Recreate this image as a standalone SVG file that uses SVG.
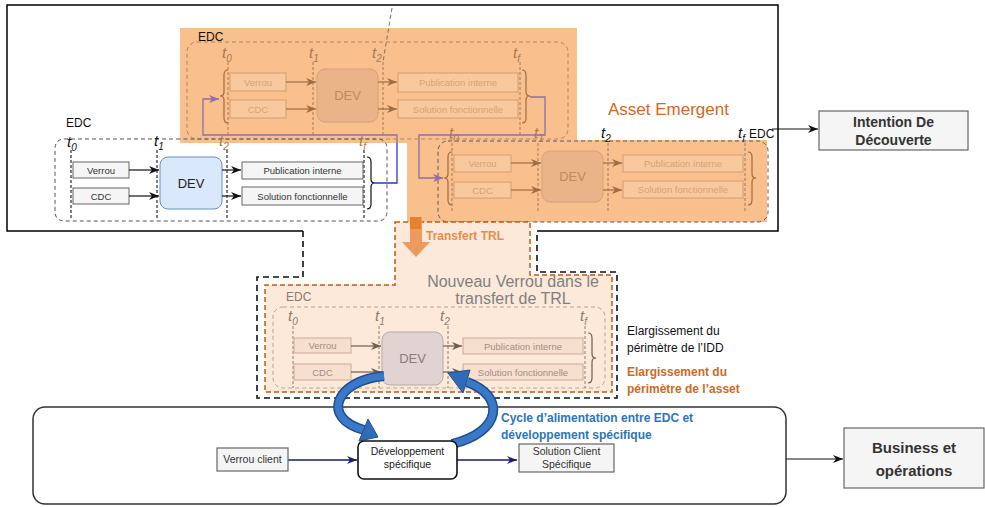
<svg xmlns="http://www.w3.org/2000/svg" width="985" height="507" viewBox="0 0 985 507">
<style>
text{font-family:'Liberation Sans',Arial,sans-serif}
.frame{fill:none;stroke:#000;stroke-width:1.5}
.dblk{fill:none;stroke:#111;stroke-width:1.6;stroke-dasharray:6 4}
.edc{fill:none;stroke:#555;stroke-width:1;stroke-dasharray:4 3}
.vl{stroke:#000;stroke-width:1;stroke-dasharray:3 2}
.box{fill:#f5f5f5;stroke:#666;stroke-width:1}
.bt{font-size:9.5px;fill:#333;text-anchor:middle}
.dev{fill:#dae8fc;stroke:#6c8ebf;stroke-width:1}
.devt{font-size:13px;fill:#222;text-anchor:middle}
.ln{fill:none;stroke:#111;stroke-width:1.2}
.tl{font-style:italic;font-size:15px}
.sub{font-size:10px}
.lbl{font-size:12px;fill:#111}
.o-edc{fill:none;stroke:#b08560;stroke-width:1;stroke-dasharray:4 3}
.o-edc2{fill:none;stroke:#5a5a5a;stroke-width:1;stroke-dasharray:4 3}
.o-vl{stroke:#a57a55;stroke-width:1;stroke-dasharray:3 2}
.o-box{fill:#f9c89d;stroke:#d29d70;stroke-width:1}
.o-bt{font-size:9.5px;fill:#d7a274;text-anchor:middle}
.o-dev{fill:#ebb388;stroke:#d8a178;stroke-width:1}
.o-devt{font-size:13px;fill:#c08a5e;text-anchor:middle}
.o-ln{fill:none;stroke:#9e6d42;stroke-width:1.2}
.o-t{fill:#a57a55}
.m-edc{fill:none;stroke:#b9a293;stroke-width:1;stroke-dasharray:4 3}
.m-vl{stroke:#8f7c6f;stroke-width:1;stroke-dasharray:3 2}
.m-box{fill:#f6dfcf;stroke:#c7aa98;stroke-width:1}
.m-bt{font-size:9.5px;fill:#a38d80;text-anchor:middle}
.m-dev{fill:#e0d3d1;stroke:#b9a9a6;stroke-width:1}
.m-devt{font-size:13px;fill:#8c7c7a;text-anchor:middle}
.m-ln{fill:none;stroke:#6e5d50;stroke-width:1.2}
.m-t{fill:#8f7c6f}
.pur{fill:none;stroke:#8f6fa6;stroke-width:1.3}
.blu{fill:none;stroke:#2936d0;stroke-width:1.3}
.nav{fill:none;stroke:#1a1a6e;stroke-width:1.3}
.gbox{fill:#f5f5f5;stroke:#666;stroke-width:1.2}
</style>
<defs>
<marker id="ab" markerUnits="userSpaceOnUse" markerWidth="10" markerHeight="8" refX="10" refY="4" orient="auto"><path d="M0,0 L10,4 L0,8 L3,4 z" fill="#111"/></marker>
<marker id="ao" markerUnits="userSpaceOnUse" markerWidth="10" markerHeight="8" refX="10" refY="4" orient="auto"><path d="M0,0 L10,4 L0,8 L3,4 z" fill="#9e6d42"/></marker>
<marker id="am" markerUnits="userSpaceOnUse" markerWidth="10" markerHeight="8" refX="10" refY="4" orient="auto"><path d="M0,0 L10,4 L0,8 L3,4 z" fill="#6e5d50"/></marker>
<marker id="ap" markerUnits="userSpaceOnUse" markerWidth="10" markerHeight="8" refX="10" refY="4" orient="auto"><path d="M0,0 L10,4 L0,8 L3,4 z" fill="#8f6fa6"/></marker>
<marker id="an" markerUnits="userSpaceOnUse" markerWidth="10" markerHeight="8" refX="10" refY="4" orient="auto"><path d="M0,0 L10,4 L0,8 L3,4 z" fill="#1a1a6e"/></marker>
</defs>
<rect width="985" height="507" fill="#fff"/>

<!-- IDD frame -->
<g id="frame-idd">
<path class="frame" d="M303,231 H7 V5 H778 V231 H537"/>
</g>

<!-- Asset emergent orange zone -->
<g id="asset-emergent">
<path d="M180,28 H577 V140 H767 V222 H407 V143 H180 Z" fill="#f9bf8c"/>
<text x="608" y="115" font-size="17" fill="#d0691f">Asset Emergent</text>
</g>

<!-- top EDC (in orange) -->
<g id="edc-top">
<rect class="o-edc" x="187" y="42" width="381" height="97" rx="10"/>
<text class="lbl" x="198" y="41">EDC</text>
<line x1="392" y1="8" x2="383" y2="62" stroke="#8a6a50" stroke-width="1" stroke-dasharray="4 3"/>
<text class="tl o-t" x="222" y="58">t<tspan class="sub" dy="4">0</tspan></text>
<text class="tl o-t" x="309" y="58">t<tspan class="sub" dy="4">1</tspan></text>
<text class="tl o-t" x="372" y="58">t<tspan class="sub" dy="4">2</tspan></text>
<text class="tl o-t" x="513" y="58">t<tspan class="sub" dy="4">f</tspan></text>
<line class="o-vl" x1="228" y1="62" x2="228" y2="136"/>
<line class="o-vl" x1="313" y1="62" x2="313" y2="136"/>
<line class="o-vl" x1="383" y1="62" x2="383" y2="136"/>
<line class="o-vl" x1="520" y1="62" x2="520" y2="136"/>
<path class="o-ln" d="M228,70 Q224,70 224,75 V92 Q224,96 220,96 Q224,96 224,100 V118 Q224,123 228,123"/>
<path class="o-ln" d="M522,70 Q526,70 526,75 V92 Q526,96 530,96 Q526,96 526,100 V118 Q526,123 522,123"/>
<rect class="o-box" x="230" y="73" width="56" height="18"/><text class="o-bt" x="258" y="86">Verrou</text>
<rect class="o-box" x="230" y="100" width="56" height="18"/><text class="o-bt" x="258" y="113">CDC</text>
<rect class="o-dev" x="317" y="69" width="61" height="53" rx="8"/><text class="o-devt" x="347.5" y="100">DEV</text>
<rect class="o-box" x="398" y="73" width="120" height="19"/><text class="o-bt" x="458" y="86">Publication interne</text>
<rect class="o-box" x="398" y="100" width="120" height="18"/><text class="o-bt" x="458" y="113">Solution fonctionnelle</text>
<path class="o-ln" d="M286,82 H316" marker-end="url(#ao)"/>
<path class="o-ln" d="M286,109 H316" marker-end="url(#ao)"/>
<path class="o-ln" d="M378,82 H397" marker-end="url(#ao)"/>
<path class="o-ln" d="M378,109 H397" marker-end="url(#ao)"/>
</g>

<!-- right EDC (in orange) -->
<g id="edc-right">
<rect class="o-edc2" x="438" y="141" width="330" height="81" rx="10"/>
<text class="tl o-t" x="449" y="138">t<tspan class="sub" dy="4">0</tspan></text>
<text class="tl o-t" x="534" y="138">t<tspan class="sub" dy="4">1</tspan></text>
<text class="tl" x="601" y="138" fill="#111">t<tspan class="sub" dy="4">2</tspan></text>
<text class="tl" x="738" y="138" fill="#111">t<tspan class="sub" dy="4">f</tspan></text>
<text class="lbl" x="749" y="138">EDC</text>
<line class="o-vl" x1="452" y1="143" x2="452" y2="212"/>
<line class="o-vl" x1="538" y1="143" x2="538" y2="212"/>
<line class="m-vl" x1="608" y1="143" x2="608" y2="212"/>
<line class="m-vl" x1="745" y1="143" x2="745" y2="212"/>
<path class="o-ln" d="M452,152 Q448,152 448,157 V174 Q448,178 444,178 Q448,178 448,182 V200 Q448,205 452,205"/>
<path class="o-ln" d="M748,152 Q752,152 752,157 V174 Q752,178 756,178 Q752,178 752,182 V200 Q752,205 748,205"/>
<rect class="o-box" x="454" y="155" width="57" height="17"/><text class="o-bt" x="482.5" y="167">Verrou</text>
<rect class="o-box" x="454" y="182" width="57" height="16"/><text class="o-bt" x="482.5" y="194">CDC</text>
<rect class="o-dev" x="542" y="151" width="61" height="51" rx="8"/><text class="o-devt" x="572.5" y="181">DEV</text>
<rect class="o-box" x="623" y="155" width="120" height="17"/><text class="o-bt" x="683" y="167">Publication interne</text>
<rect class="o-box" x="623" y="181" width="120" height="17"/><text class="o-bt" x="683" y="193">Solution fonctionnelle</text>
<path class="o-ln" d="M511,163 H541" marker-end="url(#ao)"/>
<path class="o-ln" d="M511,190 H541" marker-end="url(#ao)"/>
<path class="o-ln" d="M603,163 H622" marker-end="url(#ao)"/>
<path class="o-ln" d="M603,190 H622" marker-end="url(#ao)"/>
</g>

<!-- white EDC -->
<g id="edc-left">
<path class="edc" d="M180,139 H65 Q55,139 55,149 V211 Q55,221 65,221 H377 Q387,221 387,211 V149 Q387,139 377,139 H180"/>
<text class="lbl" x="66" y="127">EDC</text>
<text class="tl" x="67" y="147" fill="#111">t<tspan class="sub" dy="4">0</tspan></text>
<text class="tl" x="154" y="146" fill="#111">t<tspan class="sub" dy="4">1</tspan></text>
<text class="tl o-t" x="219" y="146">t<tspan class="sub" dy="4">2</tspan></text>
<text class="tl o-t" x="359" y="146">t<tspan class="sub" dy="4">f</tspan></text>
<line class="vl" x1="71" y1="150" x2="71" y2="220"/>
<line class="vl" x1="157" y1="150" x2="157" y2="220"/>
<line class="vl" x1="227" y1="150" x2="227" y2="220"/>
<line class="vl" x1="364" y1="150" x2="364" y2="220"/>
<path class="ln" d="M367,157 Q371,157 371,162 V179 Q371,183 375,183 Q371,183 371,187 V204 Q371,209 367,209"/>
<rect class="box" x="73" y="162" width="56" height="16"/><text class="bt" x="101" y="174">Verrou</text>
<rect class="box" x="73" y="188" width="56" height="16"/><text class="bt" x="101" y="200">CDC</text>
<rect class="dev" x="160" y="157" width="62" height="52" rx="8"/><text class="devt" x="191" y="188">DEV</text>
<rect class="box" x="242" y="162" width="121" height="17"/><text class="bt" x="302.5" y="174">Publication interne</text>
<rect class="box" x="242" y="187" width="121" height="18"/><text class="bt" x="302.5" y="200">Solution fonctionnelle</text>
</g>

<!-- connectors -->
<g id="connectors">
<path class="ln" d="M129,170 H159" marker-end="url(#ab)"/>
<path class="ln" d="M129,196 H159" marker-end="url(#ab)"/>
<path class="ln" d="M222,170 H241" marker-end="url(#ab)"/>
<path class="ln" d="M222,196 H241" marker-end="url(#ab)"/>
<path class="blu" d="M375,183 H397 V143"/>
<path class="pur" d="M397,143 V135 H203 V99 H219" marker-end="url(#ap)"/>
<path class="pur" d="M530,97 H545 V135 H419 V178 H443" marker-end="url(#ap)"/>
<path class="ln" d="M772,129 H818" marker-end="url(#ab)"/>
<path class="ln" d="M786,459 H843" marker-end="url(#ab)"/>
<path class="nav" d="M288,460 H357" marker-end="url(#an)"/>
<path class="nav" d="M457,460 H517" marker-end="url(#an)"/>
</g>

<!-- Transfer TRL zone -->
<g id="transfert-zone">
<path class="dblk" d="M303,231 V277 H257 V398 H617 V272 H537 V231"/>
<path d="M395,222 H530 V275 H612 V392 H265 V285 H395 Z" fill="#fde9da" stroke="#c55a11" stroke-width="1.5" stroke-dasharray="5 3"/>
<rect x="410" y="217" width="12" height="26" fill="#ee9a5c"/>
<rect x="410" y="217" width="11" height="12" fill="#e5812f"/>
<polygon points="402,242 430,242 416,257" fill="#ee9a5c"/>
<text x="426" y="240" font-size="12" font-weight="bold" fill="#e98d4a">Transfert TRL</text>
<text x="513" y="287" font-size="16" fill="#808080" text-anchor="middle">Nouveau Verrou dans le</text>
<text x="513" y="304" font-size="16" fill="#808080" text-anchor="middle">transfert de TRL</text>
</g>

<!-- middle EDC -->
<g id="edc-middle">
<rect class="m-edc" x="273" y="307" width="332" height="81" rx="10"/>
<text x="286" y="301" font-size="12" fill="#8a7a70">EDC</text>
<text class="tl m-t" x="288" y="321">t<tspan class="sub" dy="4">0</tspan></text>
<text class="tl m-t" x="375" y="321">t<tspan class="sub" dy="4">1</tspan></text>
<text class="tl m-t" x="440" y="321">t<tspan class="sub" dy="4">2</tspan></text>
<text class="tl m-t" x="580" y="321">t<tspan class="sub" dy="4">f</tspan></text>
<line class="m-vl" x1="293" y1="326" x2="293" y2="388"/>
<line class="m-vl" x1="379" y1="326" x2="379" y2="388"/>
<line class="m-vl" x1="448" y1="326" x2="448" y2="388"/>
<line class="m-vl" x1="585" y1="326" x2="585" y2="388"/>
<path class="m-ln" d="M588,333 Q592,333 592,338 V354 Q592,358 596,358 Q592,358 592,362 V378 Q592,383 588,383" stroke-width="1"/>
<rect class="m-box" x="294" y="338" width="57" height="15"/><text class="m-bt" x="322.5" y="349">Verrou</text>
<rect class="m-box" x="294" y="364" width="57" height="16"/><text class="m-bt" x="322.5" y="376">CDC</text>
<rect class="m-dev" x="382" y="332" width="61" height="53" rx="8"/><text class="m-devt" x="412.5" y="363">DEV</text>
<rect class="m-box" x="463" y="338" width="120" height="16"/><text class="m-bt" x="523" y="350">Publication interne</text>
<rect class="m-box" x="463" y="364" width="120" height="16"/><text class="m-bt" x="523" y="376">Solution fonctionnelle</text>
<path class="m-ln" d="M351,346 H381" marker-end="url(#am)"/>
<path class="m-ln" d="M351,372 H381" marker-end="url(#am)"/>
<path class="m-ln" d="M443,346 H462" marker-end="url(#am)"/>
<path class="m-ln" d="M443,372 H462" marker-end="url(#am)"/>
</g>

<g id="elargissement">
<text x="627" y="335" font-size="12" fill="#111">Elargissement du</text>
<text x="627" y="352" font-size="12" fill="#111">périmètre de l’IDD</text>
<text x="627" y="376" font-size="12" font-weight="bold" fill="#d0691f">Elargissement du</text>
<text x="627" y="393" font-size="12" font-weight="bold" fill="#d0691f">périmètre de l’asset</text>
</g>

<!-- Business zone -->
<g id="business-zone">
<rect x="33" y="407" width="753" height="97" rx="12" fill="none" stroke="#333" stroke-width="1.5"/>
</g>

<!-- cycle arrows -->
<g id="cycle">
<path d="M384,376 C336,380 320,418 364,430" fill="none" stroke="#1f4f8f" stroke-width="10"/>
<path d="M384,376 C336,380 320,418 364,430" fill="none" stroke="#3a78c8" stroke-width="7"/>
<polygon points="359,441 368,419 378,437" fill="#2f6cb8" stroke="#1f4f8f" stroke-width="1"/>
<path d="M452,444 C502,432 506,396 467,382" fill="none" stroke="#1f4f8f" stroke-width="10"/>
<path d="M452,444 C502,432 506,396 467,382" fill="none" stroke="#3a78c8" stroke-width="7"/>
<polygon points="470,370 463,393 448,373" fill="#2f6cb8" stroke="#1f4f8f" stroke-width="1"/>
<text x="501" y="422" font-size="12" font-weight="bold" fill="#2e75b6">Cycle d’alimentation entre EDC et</text>
<text x="501" y="439" font-size="12" font-weight="bold" fill="#2e75b6">développement spécifique</text>
</g>

<g id="verrou-client">
<rect class="gbox" x="217" y="448" width="71" height="23"/>
<text x="252.5" y="463" font-size="10.5" fill="#333" text-anchor="middle">Verrou client</text>
</g>
<g id="dev-specifique">
<rect x="358" y="441" width="99" height="38" rx="6" fill="#fff" stroke="#111" stroke-width="1.6"/>
<text x="407.5" y="455" font-size="10.5" fill="#222" text-anchor="middle">Développement</text>
<text x="407.5" y="468" font-size="10.5" fill="#222" text-anchor="middle">spécifique</text>
</g>
<g id="solution-client">
<rect class="gbox" x="519" y="444" width="95" height="28"/>
<text x="566.5" y="455" font-size="10.5" fill="#333" text-anchor="middle">Solution Client</text>
<text x="566.5" y="468" font-size="10.5" fill="#333" text-anchor="middle">Spécifique</text>
</g>

<g id="intention">
<rect class="gbox" x="819" y="111" width="149" height="39"/>
<text x="893.5" y="127" font-size="14" font-weight="bold" fill="#333" text-anchor="middle">Intention De</text>
<text x="893.5" y="145" font-size="14" font-weight="bold" fill="#333" text-anchor="middle">Découverte</text>
</g>
<g id="business">
<rect class="gbox" x="844" y="428" width="140" height="60"/>
<text x="914" y="453" font-size="15" font-weight="bold" fill="#333" text-anchor="middle">Business et</text>
<text x="914" y="476" font-size="15" font-weight="bold" fill="#333" text-anchor="middle">opérations</text>
</g>
</svg>
